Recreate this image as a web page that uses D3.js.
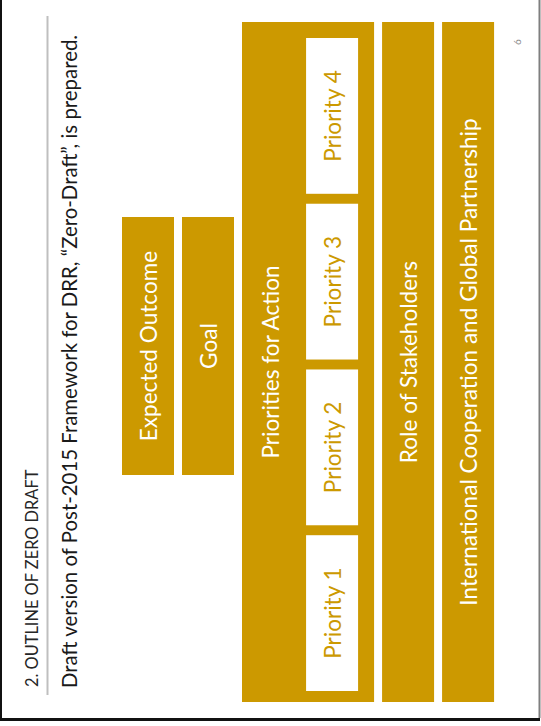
<!DOCTYPE html>
<html>
<head>
<meta charset="utf-8">
<script src="https://cdn.jsdelivr.net/npm/d3@7"></script>
<style>
  html, body { margin: 0; padding: 0; background: #ffffff; }
  svg { display: block; }
</style>
</head>
<body>
<script>
// ---------------- data ----------------
const titleText = ["2. OUTLINE OF ZERO DRAFT"];
const subtitleText = ["Draft version of Post-2015 Framework for DRR, \u201CZero-Draft\u201D, is prepared."];
const headerBoxes = ["Expected Outcome", "Goal"];
const mainBoxes = ["Priorities for Action", "Role of Stakeholders", "International Cooperation and Global Partnership"];
const priorities = ["Priority 1", "Priority 2", "Priority 3", "Priority 4"];
const pageNumber = ["6"];

// ---------------- layout ----------------
const W = 541, H = 726;
const gold = "#CC9900";
const font = "Lato, 'Open Sans', sans-serif";
const boxFont = 22.6;

const svg = d3.select("body").append("svg").attr("width", W).attr("height", H);

// columns (left to right on the page)
const columns = headerBoxes.concat(mainBoxes);
const colWeights = {"Expected Outcome": 1, "Goal": 1, "Priorities for Action": 2.54, "Role of Stakeholders": 1, "International Cooperation and Global Partnership": 1};
const colGap = 8, colUnit = 52, colStart = 122;
const colX = {};
let cx = colStart;
columns.forEach(c => { colX[c] = [cx, cx + colUnit * colWeights[c]]; cx += colUnit * colWeights[c] + colGap; });
const xCol = c => colX[c][0];
const wCol = c => colX[c][1] - colX[c][0];

// vertical scales
const yMain = d3.scaleLinear().domain([0, 1]).range([22, 702]);
const yHeader = d3.scaleLinear().domain([0, 1]).range([217, 475]);
const yPriority = d3.scaleBand().domain(priorities.slice().reverse()).range([38, 691]).paddingInner(0.06);

// frame
svg.append("line").attr("x1", 1).attr("x2", 1).attr("y1", 0).attr("y2", 721).attr("stroke", "#111").attr("stroke-width", 2);
svg.append("line").attr("x1", 0).attr("x2", 540).attr("y1", 719.5).attr("y2", 719.5).attr("stroke", "#111").attr("stroke-width", 3);
svg.append("line").attr("x1", 539.5).attr("x2", 539.5).attr("y1", 0).attr("y2", 718).attr("stroke", "#7f7f7f").attr("stroke-width", 2);

// divider line
svg.append("line").attr("x1", 47.5).attr("x2", 47.5).attr("y1", 16).attr("y2", 695).attr("stroke", "#BFBFBF").attr("stroke-width", 2);

// rotated text helper
function vtext(x, y, txt, size, color, anchor, baseline) {
  return svg.append("text")
    .attr("transform", `translate(${x},${y}) rotate(-90)`)
    .attr("text-anchor", anchor || "middle")
    .attr("dominant-baseline", baseline || "central")
    .attr("font-family", font)
    .attr("font-size", size)
    .attr("fill", color)
    .text(txt);
}

// title & subtitle
titleText.forEach(t => vtext(38, 687, t, 16.4, "#262626", "start", "alphabetic"));
subtitleText.forEach(t => vtext(77, 688, t, 20.4, "#1a1a1a", "start", "alphabetic"));

// header boxes
svg.selectAll("rect.header").data(headerBoxes).join("rect")
  .attr("class", "header")
  .attr("x", d => xCol(d)).attr("width", d => wCol(d))
  .attr("y", yHeader(0)).attr("height", yHeader(1) - yHeader(0))
  .attr("fill", gold);
headerBoxes.forEach(d => vtext(xCol(d) + wCol(d) / 2, (yHeader(0) + yHeader(1)) / 2, d, boxFont, "#ffffff"));

// main boxes
svg.selectAll("rect.main").data(mainBoxes).join("rect")
  .attr("class", "main")
  .attr("x", d => xCol(d)).attr("width", d => wCol(d))
  .attr("y", yMain(0)).attr("height", yMain(1) - yMain(0))
  .attr("fill", gold);

// priority boxes inside "Priorities for Action"
const pCol = mainBoxes[0];
const pInnerRight = 16, pInnerW = 52;
const pX = colX[pCol][1] - pInnerRight - pInnerW;
svg.selectAll("rect.priority").data(priorities).join("rect")
  .attr("class", "priority")
  .attr("x", pX).attr("width", pInnerW)
  .attr("y", d => yPriority(d)).attr("height", yPriority.bandwidth())
  .attr("fill", "#ffffff");
priorities.forEach(d => vtext(pX + pInnerW / 2, yPriority(d) + yPriority.bandwidth() / 2, d, boxFont, gold));

// main box labels
vtext((xCol(pCol) + pX) / 2 - 4, (yMain(0) + yMain(1)) / 2, pCol, boxFont, "#ffffff");
mainBoxes.slice(1).forEach(d => vtext(xCol(d) + wCol(d) / 2, (yMain(0) + yMain(1)) / 2, d, boxFont, "#ffffff"));

// page number
pageNumber.forEach(t => vtext(517, 42, t, 10, "#8c8c8c"));
</script>
</body>
</html>
